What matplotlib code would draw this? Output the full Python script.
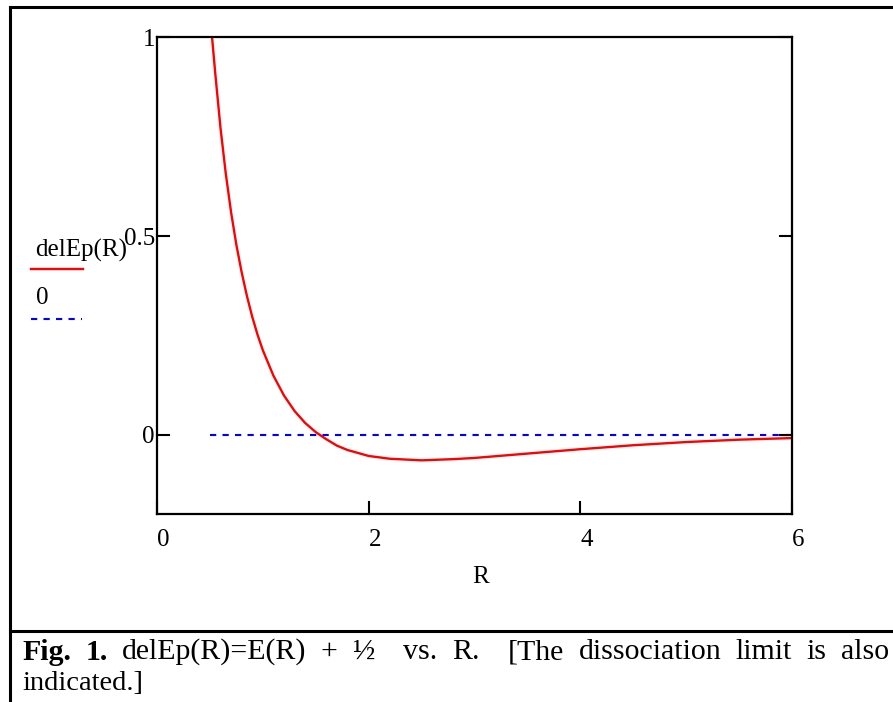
import matplotlib.pyplot as plt
from matplotlib.lines import Line2D

# values
R = [0.5, 0.52, 0.55, 0.6, 0.65, 0.7, 0.75, 0.8, 0.85, 0.9, 0.95, 1.0, 1.1, 1.2,
     1.3, 1.4, 1.5, 1.6, 1.7, 1.8, 2.0, 2.2, 2.5, 2.8, 3.0, 3.5, 4.0, 4.5, 5.0,
     5.5, 6.0]
delEp = [1.08, 1.0, 0.91, 0.771, 0.656, 0.559, 0.477, 0.408, 0.348, 0.296, 0.251,
         0.212, 0.148, 0.098, 0.059, 0.029, 0.006, -0.012, -0.028, -0.039, -0.054,
         -0.061, -0.065, -0.062, -0.059, -0.048, -0.037, -0.027, -0.019, -0.013,
         -0.009]
limit_R = [0.5, 6.0]
limit_E = [0.0, 0.0]

xticks = [0, 2, 4, 6]
yticks = [0, 0.5, 1]
ytick_labels = ["0", "0.5", "1"]

caption_bold = "Fig. 1."
caption_line1 = "delEp(R)=E(R) + \u00bd  vs. R.  [The dissociation limit is also"
caption_line2 = "indicated.]"

plt.rcParams['font.family'] = ['Liberation Serif', 'DejaVu Serif']

W, H = 893, 702
FS = 18
fig = plt.figure(figsize=(W / 100, H / 100), dpi=100)


def fx(px):
    return px / W


def fy(py):
    return 1 - py / H


ax = fig.add_axes([fx(157), fy(514), fx(792) - fx(157), fy(37) - fy(514)])
ax.plot(R, delEp, color='red', lw=1.7, clip_on=True)
ax.plot(limit_R, limit_E, color='blue', lw=1.5, linestyle=(0, (3, 3)))
ax.set_xlim(0, 6)
ax.set_ylim(-0.2, 1)

for s in ax.spines.values():
    s.set_linewidth(1.6)
    s.set_color('black')

# Mathcad style inward ticks, labels drawn by hand
ax.set_xticks([])
ax.set_yticks([])
for y in yticks:
    ax.plot([0, 0.11], [y, y], color='black', lw=1.5, clip_on=False)
    ax.plot([5.89, 6], [y, y], color='black', lw=1.5, clip_on=False)
for x in xticks:
    ax.plot([x, x], [-0.2, -0.171], color='black', lw=1.5, clip_on=False)

for y, lab in zip(yticks, ytick_labels):
    ax.annotate(lab, (0, y), xytext=(-1.5, -2), textcoords='offset points',
                ha='right', va='center', fontsize=FS)
for x in xticks:
    ax.annotate(str(x), (x, -0.2), xytext=(0, -11), textcoords='offset points',
                ha='left', va='top', fontsize=FS)

fig.text(fx(481), fy(577), "R", ha='center', va='center', fontsize=FS)

# legend on the left
fig.text(fx(35), fy(250), "delEp(R)", ha='left', va='center', fontsize=FS)
fig.add_artist(Line2D([fx(31), fx(83)], [fy(269), fy(269)], color='red', lw=1.7))
fig.text(fx(36), fy(298), "0", ha='left', va='center', fontsize=FS)
fig.add_artist(Line2D([fx(31), fx(82)], [fy(319), fy(319)], color='blue', lw=1.5,
                      linestyle=(0, (3, 3))))

# outer frame and caption box
fig.add_artist(Line2D([fx(10), 1], [fy(7), fy(7)], color='black', lw=2.2))
fig.add_artist(Line2D([fx(10), fx(10)], [fy(7), 0], color='black', lw=2.2))
fig.add_artist(Line2D([fx(10), 1], [fy(631), fy(631)], color='black', lw=2.2))

# justified first caption line (a double space counts as two gaps)
renderer = fig.canvas.get_renderer()
tokens = [(tok, 'bold') for tok in caption_bold.split(' ')] + \
         [(tok, 'normal') for tok in caption_line1.split(' ')]
items = []
total = 0
for w, weight in tokens:
    if w == '':
        items.append(None)
        continue
    t = fig.text(0, fy(652), w, ha='left', va='center', fontsize=21.5, fontweight=weight)
    total += t.get_window_extent(renderer).width
    items.append(t)
gap = (889 - 22 - total) / (len(items) - 1)
x = 22
for t in items:
    if t is None:
        x += gap
        continue
    t.set_x(fx(x))
    x += t.get_window_extent(renderer).width + gap

fig.text(fx(22), fy(684), caption_line2, ha='left', va='center', fontsize=20.5)

fig.savefig("out.png", dpi=100)
